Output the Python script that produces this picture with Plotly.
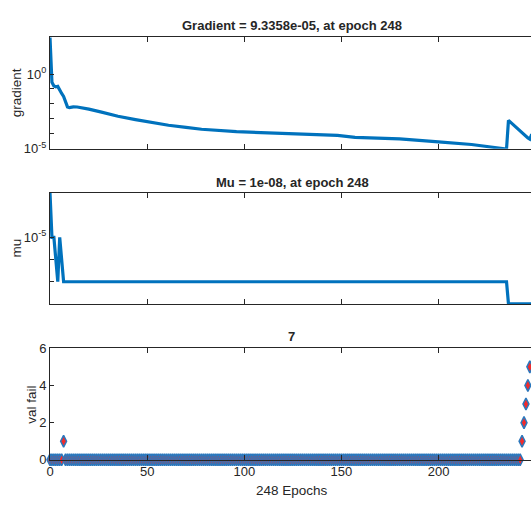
import plotly.graph_objects as go

# ---------------- data ----------------
grad_epochs = [0, 1, 2, 3, 4, 5, 6, 7, 8, 9, 10, 12, 14, 17, 20, 26, 35, 44, 52, 61,
               70, 78, 96, 113, 130, 148, 157, 165, 180, 200, 217, 235, 236, 246, 247, 248]
grad_values = [2.8e2, 0.28, 0.16, 0.14, 0.15, 0.079, 0.05, 0.032, 0.0126, 6.3e-3,
               5.6e-3, 6.3e-3, 6.2e-3, 5.4e-3, 4.5e-3, 2.95e-3, 1.48e-3, 8.9e-4, 5.6e-4, 3.7e-4,
               2.7e-4, 2.0e-4, 1.38e-4, 1.10e-4, 9.3e-5, 7.8e-5, 5.75e-5, 5.25e-5, 4.47e-5, 2.82e-5,
               1.9e-5, 9.5e-6, 7.9e-4, 5.25e-5, 4.4e-5, 9.3358e-5]

mu_epochs = [0, 1, 2, 3, 4, 5, 6, 7, 235, 236, 248]
mu_values = [1e-3, 1e-5, 1e-5, 1e-6, 1e-7, 1e-5, 1e-6, 1e-7, 1e-7, 1e-8, 1e-8]

val_fail = [
    0, 0, 0, 0, 0, 0, 0, 1, 0, 0, 0, 0, 0, 0, 0, 0, 0, 0, 0, 0, 0, 0, 0, 0, 0,
    0, 0, 0, 0, 0, 0, 0, 0, 0, 0, 0, 0, 0, 0, 0, 0, 0, 0, 0, 0, 0, 0, 0, 0, 0,
    0, 0, 0, 0, 0, 0, 0, 0, 0, 0, 0, 0, 0, 0, 0, 0, 0, 0, 0, 0, 0, 0, 0, 0, 0,
    0, 0, 0, 0, 0, 0, 0, 0, 0, 0, 0, 0, 0, 0, 0, 0, 0, 0, 0, 0, 0, 0, 0, 0, 0,
    0, 0, 0, 0, 0, 0, 0, 0, 0, 0, 0, 0, 0, 0, 0, 0, 0, 0, 0, 0, 0, 0, 0, 0, 0,
    0, 0, 0, 0, 0, 0, 0, 0, 0, 0, 0, 0, 0, 0, 0, 0, 0, 0, 0, 0, 0, 0, 0, 0, 0,
    0, 0, 0, 0, 0, 0, 0, 0, 0, 0, 0, 0, 0, 0, 0, 0, 0, 0, 0, 0, 0, 0, 0, 0, 0,
    0, 0, 0, 0, 0, 0, 0, 0, 0, 0, 0, 0, 0, 0, 0, 0, 0, 0, 0, 0, 0, 0, 0, 0, 0,
    0, 0, 0, 0, 0, 0, 0, 0, 0, 0, 0, 0, 0, 0, 0, 0, 0, 0, 0, 0, 0, 0, 0, 0, 0,
    0, 0, 0, 0, 0, 0, 0, 0, 0, 0, 0, 0, 0, 0, 0, 0, 0, 0, 1, 2, 3, 4, 5, 6,
]
val_epochs = list(range(len(val_fail)))

x_ticks = [0, 50, 100, 150, 200]
grad_ticks = [1e-5, 1]
grad_tick_text = ["10<sup>-5</sup>", "10<sup>0</sup>"]
grad_minor = [1e-4, 1e-3, 1e-2, 1e-1]
mu_ticks = [1e-5]
mu_tick_text = ["10<sup>-5</sup>"]
mu_minor = [1e-7, 1e-6]
vf_ticks = [0, 2, 4, 6]

title_grad = "Gradient = 9.3358e-05, at epoch 248"
title_mu = "Mu = 1e-08, at epoch 248"
title_vf = "7"
x_title = "248 Epochs"

# ---------------- styling ----------------
W, H = 531, 505
L = 50
AX = "#262626"
BLUE = "#0072BD"
FONT = "Liberation Sans, Arial, sans-serif"
XMAX = 247.6


def py(p):  # pixel y -> paper y
    return 1 - p / H


def px(p):  # pixel x -> paper x
    return (p - L) / (W - L)


fig = go.Figure()
fig.add_trace(go.Scatter(x=grad_epochs, y=grad_values, mode="lines",
                         line=dict(color=BLUE, width=3.2), xaxis="x", yaxis="y",
                         showlegend=False, hoverinfo="skip"))
fig.add_trace(go.Scatter(x=mu_epochs, y=mu_values, mode="lines",
                         line=dict(color=BLUE, width=3.2), xaxis="x2", yaxis="y2",
                         showlegend=False, hoverinfo="skip"))
fig.add_trace(go.Scatter(x=val_epochs, y=val_fail, mode="markers",
                         marker=dict(symbol="diamond-tall", size=8.5, color="#f22b2b",
                                     line=dict(color="#2b78bd", width=1.5)),
                         cliponaxis=False, xaxis="x3", yaxis="y3",
                         showlegend=False, hoverinfo="skip"))

tickfont = dict(family=FONT, size=13, color=AX)
xcommon = dict(range=[0, XMAX], tickvals=x_ticks, ticks="inside", ticklen=5,
               tickcolor=AX, showline=True, linecolor=AX, linewidth=1,
               mirror="ticks", showgrid=False, zeroline=False, domain=[0, 1],
               tickfont=tickfont)
ycommon = dict(ticks="inside", ticklen=4, tickcolor=AX, showline=True,
               linecolor=AX, linewidth=1, showgrid=False, zeroline=False,
               tickfont=tickfont)
minor_style = dict(ticks="inside", ticklen=4, tickcolor=AX, showgrid=False)

dom1 = [py(146), py(30.7)]
dom2 = [py(306), py(191.7)]
dom3 = [py(466.7), py(351.7)]

fig.update_layout(
    width=W, height=H, margin=dict(l=L, r=0, t=0, b=0),
    paper_bgcolor="white", plot_bgcolor="white",
    xaxis=dict(xcommon, anchor="y", showticklabels=False),
    xaxis2=dict(xcommon, anchor="y2", showticklabels=False),
    xaxis3=dict(xcommon, anchor="y3", showticklabels=True),
    yaxis=dict(ycommon, type="log", range=[-5, 2.5], domain=dom1, anchor="x",
               tickvals=grad_ticks, ticktext=grad_tick_text,
               minor=dict(minor_style, tickvals=grad_minor)),
    yaxis2=dict(ycommon, type="log", range=[-8, -3], domain=dom2, anchor="x2",
                tickvals=mu_ticks, ticktext=mu_tick_text,
                minor=dict(minor_style, tickvals=mu_minor)),
    yaxis3=dict(ycommon, range=[0, 6], domain=dom3, anchor="x3",
                tickvals=vf_ticks),
    # right-side tick marks (axis line itself lies just outside the picture)
    yaxis4=dict(overlaying="y", side="right", anchor="x", type="log", range=[-5, 2.5],
                tickvals=[1], ticks="inside", ticklen=4, tickcolor=AX,
                showticklabels=False, showline=False, showgrid=False, zeroline=False),
    yaxis5=dict(overlaying="y2", side="right", anchor="x2", type="log", range=[-8, -3],
                tickvals=[1e-5], ticks="inside", ticklen=4, tickcolor=AX,
                showticklabels=False, showline=False, showgrid=False, zeroline=False),
    yaxis6=dict(overlaying="y3", side="right", anchor="x3", range=[0, 6],
                tickvals=vf_ticks, ticks="inside", ticklen=4, tickcolor=AX,
                showticklabels=False, showline=False, showgrid=False, zeroline=False),
)

titlefont = dict(family=FONT, size=13, color=AX)
labfont = dict(family=FONT, size=13.5, color=AX)
ann = [
    dict(text="<b>%s</b>" % title_grad, x=px(292), y=py(18.7), font=titlefont),
    dict(text="<b>%s</b>" % title_mu, x=px(292), y=py(180.5), font=titlefont),
    dict(text="<b>%s</b>" % title_vf, x=px(291), y=py(339.8), font=titlefont),
    dict(text=x_title, x=px(291.5), y=py(498.7), font=labfont),
    dict(text="gradient", x=px(16.5), y=py(88.4), font=labfont, textangle=-90),
    dict(text="mu", x=px(16.5), y=py(248.5), font=labfont, textangle=-90),
    dict(text="val fail", x=px(32), y=py(410), font=labfont, textangle=-90),
]
for a in ann:
    fig.add_annotation(xref="paper", yref="paper", xanchor="center", yanchor="middle",
                       showarrow=False, **a)

fig.write_html("out.html")
